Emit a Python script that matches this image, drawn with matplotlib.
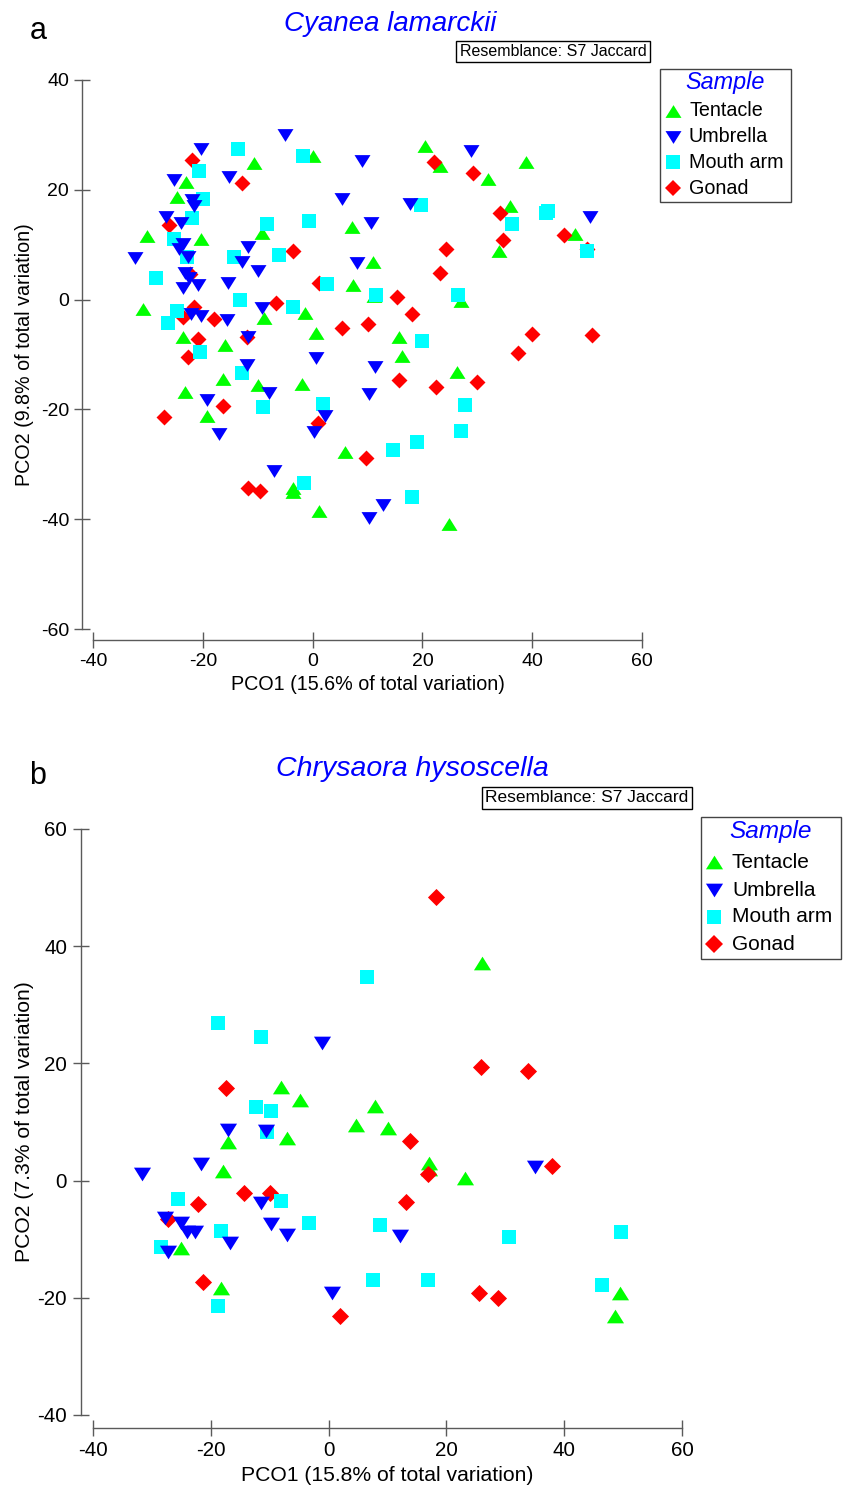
import matplotlib
matplotlib.use("Agg")
import matplotlib.pyplot as plt
from matplotlib.lines import Line2D
from matplotlib.patches import Rectangle

plt.rcParams["font.family"] = ["Liberation Sans", "DejaVu Sans"]
plt.rcParams["axes.unicode_minus"] = False

W, H = 843, 1488

# ---- panel a: Cyanea lamarckii ----
a_tentacle_x = [-10.7, 0.1, -23.0, -24.7, -30.1, -20.3, -9.2, 7.2, 7.4, -30.9, -8.8, -1.4, -23.6,
                -15.9, 0.6, -16.3, -23.2, -9.9, -1.9, -19.2, 5.9, -3.6, -3.6, 1.2, 20.5, 23.2, 32.0,
                38.9, 36.0, 34.0, 47.8, 11.0, 11.2, 27.0, 15.8, 16.3, 26.3, 24.9]
a_tentacle_y = [24.8, 26.1, 21.4, 18.6, 11.5, 11.1, 12.2, 13.3, 2.7, -1.8, -3.3, -2.4, -6.9,
                -8.2, -6.0, -14.4, -16.8, -15.5, -15.3, -21.2, -27.7, -35.0, -34.3, -38.5, 27.9, 24.3, 21.9,
                25.0, 17.0, 8.8, 11.9, 6.8, 0.7, -0.2, -6.9, -10.2, -13.1, -40.9]
a_umbrella_x = [-32.3, -26.7, -25.2, -20.3, -5.0, -15.2, -21.9, -21.6, -24.0, -11.7, -12.8, -24.3,
                -23.6, -22.7, -23.2, -22.5, -23.6, -20.9, -15.4, -9.9, 8.1, -22.1, -20.3, -15.6, -9.2,
                -11.7, -11.9, 0.6, -7.9, -19.2, -17.0, 2.3, 0.3, -7.0, 10.3, 10.3, 10.7, 9.0, 5.4,
                28.9, 17.8, 50.5, 11.4, 12.8]
a_umbrella_y = [7.5, 15.0, 21.7, 27.4, 29.9, 22.4, 18.2, 17.0, 13.9, 9.5, 6.8, 9.3,
                10.2, 7.7, 4.9, 4.0, 2.2, 2.7, 3.1, 5.3, 6.6, -2.6, -2.9, -3.8, -1.5,
                -6.9, -12.0, -10.6, -17.0, -18.2, -24.5, -21.2, -24.1, -31.2, -17.2, -39.8, 13.9, 25.2, 18.4,
                27.0, 17.5, 15.0, -12.2, -37.4]
a_mouth_x = [-13.6, -1.7, -20.7, -19.9, -21.9, -8.3, -0.6, -25.2, -22.9, -14.3, -6.1, -28.5, 2.6,
             -13.2, -24.7, -26.3, -3.6, -20.5, -12.8, -9.0, 1.9, -1.5, 19.8, 42.9, 42.5, 36.3, 50.0,
             11.6, 26.5, 19.9, 27.8, 27.0, 19.0, 14.7, 18.1]
a_mouth_y = [27.4, 26.1, 23.5, 18.4, 14.8, 13.7, 14.4, 11.1, 7.7, 7.7, 8.2, 4.0, 2.9,
             0.0, -2.0, -4.2, -1.3, -9.5, -13.3, -19.5, -19.0, -33.4, 17.3, 16.2, 15.7, 13.7, 8.9,
             0.9, 0.9, -7.5, -19.2, -23.9, -25.9, -27.4, -35.9]
a_gonad_x = [-21.9, -12.8, -26.1, -3.6, 1.2, -22.3, -21.6, -23.6, -17.9, -6.6, 5.4, 10.1, -20.9,
             -11.9, -22.7, -16.3, -27.0, 1.0, -11.7, -9.6, 9.7, 22.1, 29.2, 34.2, 34.7, 45.8, 50.0,
             24.3, 23.2, 15.4, 18.1, 40.0, 50.9, 37.4, 15.8, 22.5, 30.0]
a_gonad_y = [25.5, 21.2, 13.5, 8.9, 3.1, 4.6, -1.3, -3.1, -3.5, -0.7, -5.1, -4.4, -7.1,
             -6.8, -10.4, -19.3, -21.4, -22.4, -34.3, -34.9, -28.8, 25.0, 23.0, 15.7, 10.9, 11.7, 9.3,
             9.3, 4.9, 0.4, -2.7, -6.2, -6.4, -9.7, -14.6, -15.9, -15.1]

# ---- panel b: Chrysaora hysoscella ----
b_tentacle_x = [-8.0, -4.8, 7.8, 4.6, 10.0, -17.0, -7.1, -18.0, -25.1, -18.2, 26.1, 17.1, 17.0,
                23.1, 49.4, 48.6]
b_tentacle_y = [16.0, 13.7, 12.7, 9.5, 9.0, 6.6, 7.3, 1.6, -11.5, -18.3, 37.1, 3.0, 2.0,
                0.4, -19.2, -23.1]
b_umbrella_x = [-1.2, -17.0, -10.7, -21.6, -31.7, -11.4, -27.8, -25.1, -24.1, -22.6, -9.7, -7.1,
                -16.8, -27.2, 0.5, 35.1, 12.1]
b_umbrella_y = [23.5, 8.6, 8.4, 2.8, 1.1, -3.8, -6.4, -7.3, -8.8, -8.8, -7.4, -9.3,
                -10.7, -12.2, -19.2, 2.3, -9.5]
b_mouth_x = [6.6, -18.8, -11.4, -12.4, -9.7, -10.5, -25.6, -8.0, -18.2, -3.4, 8.7, -28.4,
             -18.7, 7.5, 16.8, 30.7, 49.6, 46.5]
b_mouth_y = [34.7, 26.9, 24.5, 12.5, 11.9, 8.3, -3.2, -3.5, -8.6, -7.3, -7.6, -11.3,
             -21.4, -17.0, -17.0, -9.7, -8.8, -17.8]
b_gonad_x = [18.3, 25.8, 33.8, -17.5, 13.9, 16.8, 13.1, 38.0, -14.4, -10.0, -22.1, -27.3,
             -21.4, 2.0, 25.5, 28.7]
b_gonad_y = [48.4, 19.4, 18.7, 15.8, 6.7, 1.1, -3.7, 2.5, -2.1, -2.1, -4.0, -6.6,
             -17.3, -23.1, -19.2, -20.1]

labels = ["Tentacle", "Umbrella", "Mouth arm", "Gonad"]
colors = ["#00ff00", "#0000ff", "#00ffff", "#ff0000"]
UP = [(0, 0.8), (-1, -0.8), (1, -0.8)]
DOWN = [(0, -0.8), (-1, 0.8), (1, 0.8)]
markers = [UP, DOWN, "s", "D"]
sizes = [132, 132, 97, 66]   # scatter sizes in pt^2
draw_order = [0, 3, 2, 1]    # green, red, cyan, blue on top
spine_col = "#5a5a5a"


def fx(px):
    return px / W


def fy(py):
    return 1 - py / H


fig = plt.figure(figsize=(W / 100, H / 100), dpi=100)


def panel(box, xlim, ylim, ticks_x, ticks_y, series, scale, offset, ticklen, tick_fs, lab_fs,
          xlabel, ylabel, xlab_y, ylab_x):
    l, t, r, b = box
    ax = fig.add_axes([fx(l), fy(b), (r - l) / W, (b - t) / H])
    ax.patch.set_visible(False)
    for i in draw_order:
        xs, ys = series[i]
        ax.scatter(xs, ys, s=sizes[i] * scale, marker=markers[i], c=colors[i],
                   linewidths=0, clip_on=False, zorder=3)
    ax.set_xlim(*xlim)
    ax.set_ylim(*ylim)
    ax.set_xticks(ticks_x)
    ax.set_yticks(ticks_y)
    for side in ["top", "right"]:
        ax.spines[side].set_visible(False)
    ax.spines["left"].set_position(("outward", offset))
    ax.spines["bottom"].set_position(("outward", offset))
    ax.spines["left"].set_bounds(*ylim)
    ax.spines["bottom"].set_bounds(*xlim)
    for side in ["left", "bottom"]:
        ax.spines[side].set_color(spine_col)
        ax.spines[side].set_linewidth(1.0)
    ax.tick_params(direction="inout", length=ticklen, width=1.0, color=spine_col,
                   labelsize=tick_fs, pad=3.6)
    ax.set_xlabel(xlabel, fontsize=lab_fs, va="center")
    ax.set_ylabel(ylabel, fontsize=lab_fs, va="center")
    ax.xaxis.set_label_coords(0.5, xlab_y)
    ax.yaxis.set_label_coords(ylab_x, 0.5)
    return ax


def legend(x0, y0, x1, y1, title_y, rows_y, mk_x, txt_x, fs, tfs, scale):
    fig.add_artist(Rectangle((fx(x0), fy(y1)), (x1 - x0) / W, (y1 - y0) / H,
                             transform=fig.transFigure, fill=False, ec="#444444", lw=1.0))
    fig.text(fx((x0 + x1) / 2), fy(title_y), "Sample", color="#0000ff", style="italic",
             fontsize=tfs, ha="center", va="center")
    for i, ry in enumerate(rows_y):
        fig.add_artist(Line2D([fx(mk_x)], [fy(ry)], transform=fig.transFigure,
                              marker=markers[i], markersize=(sizes[i] * scale) ** 0.5,
                              color=colors[i], markeredgewidth=0, linestyle="none"))
        fig.text(fx(txt_x), fy(ry), labels[i], fontsize=fs, ha="left", va="center")


series_a = [(a_tentacle_x, a_tentacle_y), (a_umbrella_x, a_umbrella_y),
            (a_mouth_x, a_mouth_y), (a_gonad_x, a_gonad_y)]
series_b = [(b_tentacle_x, b_tentacle_y), (b_umbrella_x, b_umbrella_y),
            (b_mouth_x, b_mouth_y), (b_gonad_x, b_gonad_y)]

panel((93, 80, 642, 629), (-40, 60), (-60, 40), [-40, -20, 0, 20, 40, 60],
      [-60, -40, -20, 0, 20, 40], series_a, 1.0, 7.9, 11.5, 14.0, 14.2,
      "PCO1 (15.6% of total variation)", "PCO2 (9.8% of total variation)", -0.102, -0.124)
panel((93, 829, 682, 1415), (-40, 60), (-40, 60), [-40, -20, 0, 20, 40, 60],
      [-40, -20, 0, 20, 40, 60], series_b, 1.15, 9.0, 12.0, 14.8, 15.2,
      "PCO1 (15.8% of total variation)", "PCO2 (7.3% of total variation)", -0.104, -0.117)

# titles, panel letters, resemblance boxes
fig.text(fx(38), fy(31), "a", fontsize=22, ha="center", va="center")
fig.text(fx(390), fy(24), "Cyanea lamarckii", color="#0000ff", style="italic",
         fontsize=20, ha="center", va="center")
fig.text(fx(553), fy(51.5), "Resemblance: S7 Jaccard", fontsize=11.5, ha="center", va="center",
         bbox=dict(boxstyle="square,pad=0.2", fc="white", ec="black", lw=1.0))

fig.text(fx(38), fy(776), "b", fontsize=22, ha="center", va="center")
fig.text(fx(412), fy(769), "Chrysaora hysoscella", color="#0000ff", style="italic",
         fontsize=20.5, ha="center", va="center")
fig.text(fx(587), fy(798), "Resemblance: S7 Jaccard", fontsize=12.5, ha="center", va="center",
         bbox=dict(boxstyle="square,pad=0.2", fc="white", ec="black", lw=1.0))

legend(660, 69, 791, 202, 83, [111, 137, 162, 188], 673, 689, 14.2, 16.8, 1.0)
legend(701, 817, 841, 959, 832, [862, 890, 917, 944], 714, 732, 15.0, 17.6, 1.15)

fig.savefig("out.png", dpi=100)
